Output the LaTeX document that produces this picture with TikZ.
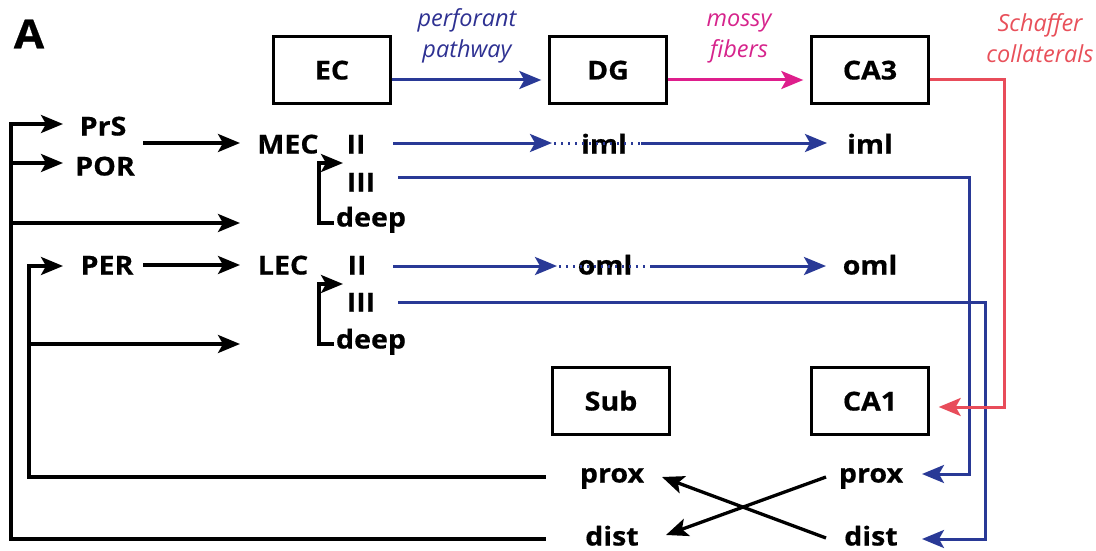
\documentclass[tikz,border=0pt]{standalone}
\usepackage{fontspec}
\setmainfont{Open Sans}
\newfontfamily\bsf{Open Sans}[FakeStretch=1.1,FakeBold=0.6]
\usetikzlibrary{arrows.meta,calc}
\definecolor{blueC}{RGB}{41,57,150}
\definecolor{pinkC}{RGB}{222,30,140}
\definecolor{redC}{RGB}{232,76,90}
\definecolor{navyT}{RGB}{46,49,146}
\definecolor{pinkT}{RGB}{214,36,140}
\definecolor{redT}{RGB}{232,80,90}
\tikzset{
  txt/.style={font=\fontsize{26}{28}\selectfont\bsf\bfseries, inner sep=0pt, text height=19pt, text depth=0pt},
  box/.style={txt, draw, line width=2.4pt, minimum width=117pt, minimum height=67pt},
  lbl/.style={font=\fontsize{23.5}{31}\selectfont\itshape, align=center, inner sep=0pt},
  kl/.style={line width=3.3pt, black},
  ka/.style={kl, -{Stealth[length=22pt,width=18pt,inset=5pt]}},
  kb/.style={kl, {Stealth[length=22pt,width=18pt,inset=5pt]}-},
  bl/.style={line width=3pt, blueC},
  ba/.style={bl, -{Stealth[length=22pt,width=18pt,inset=5pt]}},
  bd/.style={line width=3pt, blueC, dash pattern=on 2pt off 5pt},
}
\begin{document}
\begin{tikzpicture}[x=1pt,y=-1pt]
\useasboundingbox (0,0) rectangle (1096,551);
% title
\node[font=\fontsize{40}{42}\selectfont\bsf\bfseries, inner sep=0pt] (A) at (29,34) {A};
% boxes
\node[box] (EC) at (332,70) {EC};
\node[box] (DG) at (608,70) {DG};
\node[box] (CA3) at (870,70) {CA3};
\node[box] (Sub) at (611,401) {Sub};
\node[box] (CA1) at (870,401) {CA1};
% pathway labels
\node[lbl, text=navyT] (pp) at (467,36) {perforant\\pathway};
\node[lbl, text=pinkT] (mf) at (739,38) {mossy\\fibers};
\node[lbl, text=redT] (sc) at (1040,38) {Schaffer\\collaterals};
% text nodes
\node[txt] (PrS) at (103,126) {PrS};
\node[txt] (POR) at (105,166) {POR};
\node[txt] (MEC) at (288,144) {MEC};
\node[txt] (IIa) at (356,144) {II};
\node[txt] (IIIa) at (361,182) {III};
\node[txt] (deepa) at (371,217) {deep};
\node[txt] (imla) at (604,144) {iml};
\node[txt] (imlb) at (870,144) {iml};
\node[txt] (PER) at (107,265) {PER};
\node[txt] (LEC) at (283,265) {LEC};
\node[txt] (IIb) at (357,265) {II};
\node[txt] (IIIb) at (361,302) {III};
\node[txt] (deepb) at (371,339) {deep};
\node[txt] (omla) at (605,265) {oml};
\node[txt] (omlb) at (870,265) {oml};
\node[txt] (proxa) at (612,473) {prox};
\node[txt] (dista) at (612,536) {dist};
\node[txt] (proxb) at (871,473) {prox};
\node[txt] (distb) at (871,536) {dist};
% trunk coordinates
\coordinate (ot) at (11,124);
\coordinate (ob) at (11,539);
\coordinate (it) at (29,266);
\coordinate (ib) at (29,477);
% outer trunk
\draw[kb] ($(PrS)+(-40,-2)$) -- (ot) -- (ob) -- ($(dista)+(-66,3)$);
\draw[ka] ($(POR -| ot)+(0,-3)$) -- ($(POR)+(-42,-3)$);
\draw[ka] ($(deepa -| ot)+(0,6)$) -- ($(deepa)+(-131,6)$);
% inner trunk
\draw[kb] ($(PER)+(-44,1)$) -- (it) -- (ib) -- ($(proxa)+(-66,4)$);
\draw[ka] ($(deepb -| it)+(0,5)$) -- ($(deepb)+(-131,5)$);
% to MEC / LEC
\draw[ka] ($(MEC)+(-145,-1)$) -- ($(MEC)+(-48,-1)$);
\draw[ka] ($(PER)+(36,0)$) -- ($(LEC)+(-43,0)$);
% brackets
\draw[ka] ($(deepa)+(-37,6)$) -| ($(IIIa)+(-42,-19)$) -- ($(IIIa)+(-18,-19)$);
\draw[ka] ($(deepb)+(-37,5)$) -| ($(IIIb)+(-42,-18)$) -- ($(IIIb)+(-18,-18)$);
% blue perforant paths
\draw[ba] ($(EC.east)+(0,10)$) -- ($(DG.west)+(-7,10)$);
\draw[ba] ($(IIa)+(37,-1)$) -- ($(imla)+(-52,-1)$);
\draw[bd] ($(imla)+(-50,-1)$) -- ($(imla)+(36,-1)$);
\draw[ba] ($(imla)+(37,-1)$) -- ($(imlb)+(-43,-1)$);
\draw[ba] ($(IIb)+(36,1)$) -- ($(omla)+(-48,1)$);
\draw[bd] ($(omla)+(-46,1)$) -- ($(omla)+(44,1)$);
\draw[ba] ($(omla)+(45,1)$) -- ($(omlb)+(-44,1)$);
\draw[ba] ($(IIIa)+(37,-5)$) -| ($(proxb)+(98,1)$) -- ($(proxb)+(51,1)$);
\draw[ba] ($(IIIb)+(37,0)$) -| ($(distb)+(114,3)$) -- ($(distb)+(51,3)$);
% mossy fibers
\draw[line width=3pt, pinkC, -{Stealth[length=22pt,width=18pt,inset=5pt]}] ($(DG.east)+(0,10)$) -- ($(CA3.west)+(-7,10)$);
% Schaffer collaterals
\draw[line width=3pt, redC, -{Stealth[length=22pt,width=18pt,inset=5pt]}] ($(CA3.east)+(0,10)$) -| ($(CA1.east)+(75,6)$) -- ($(CA1.east)+(9,6)$);
% crossing projections
\draw[ka] ($(proxb)+(-45,4)$) -- ($(dista)+(54,-1)$);
\draw[ka] ($(distb)+(-45,2)$) -- ($(proxa)+(50,4)$);
\end{tikzpicture}
\end{document}
